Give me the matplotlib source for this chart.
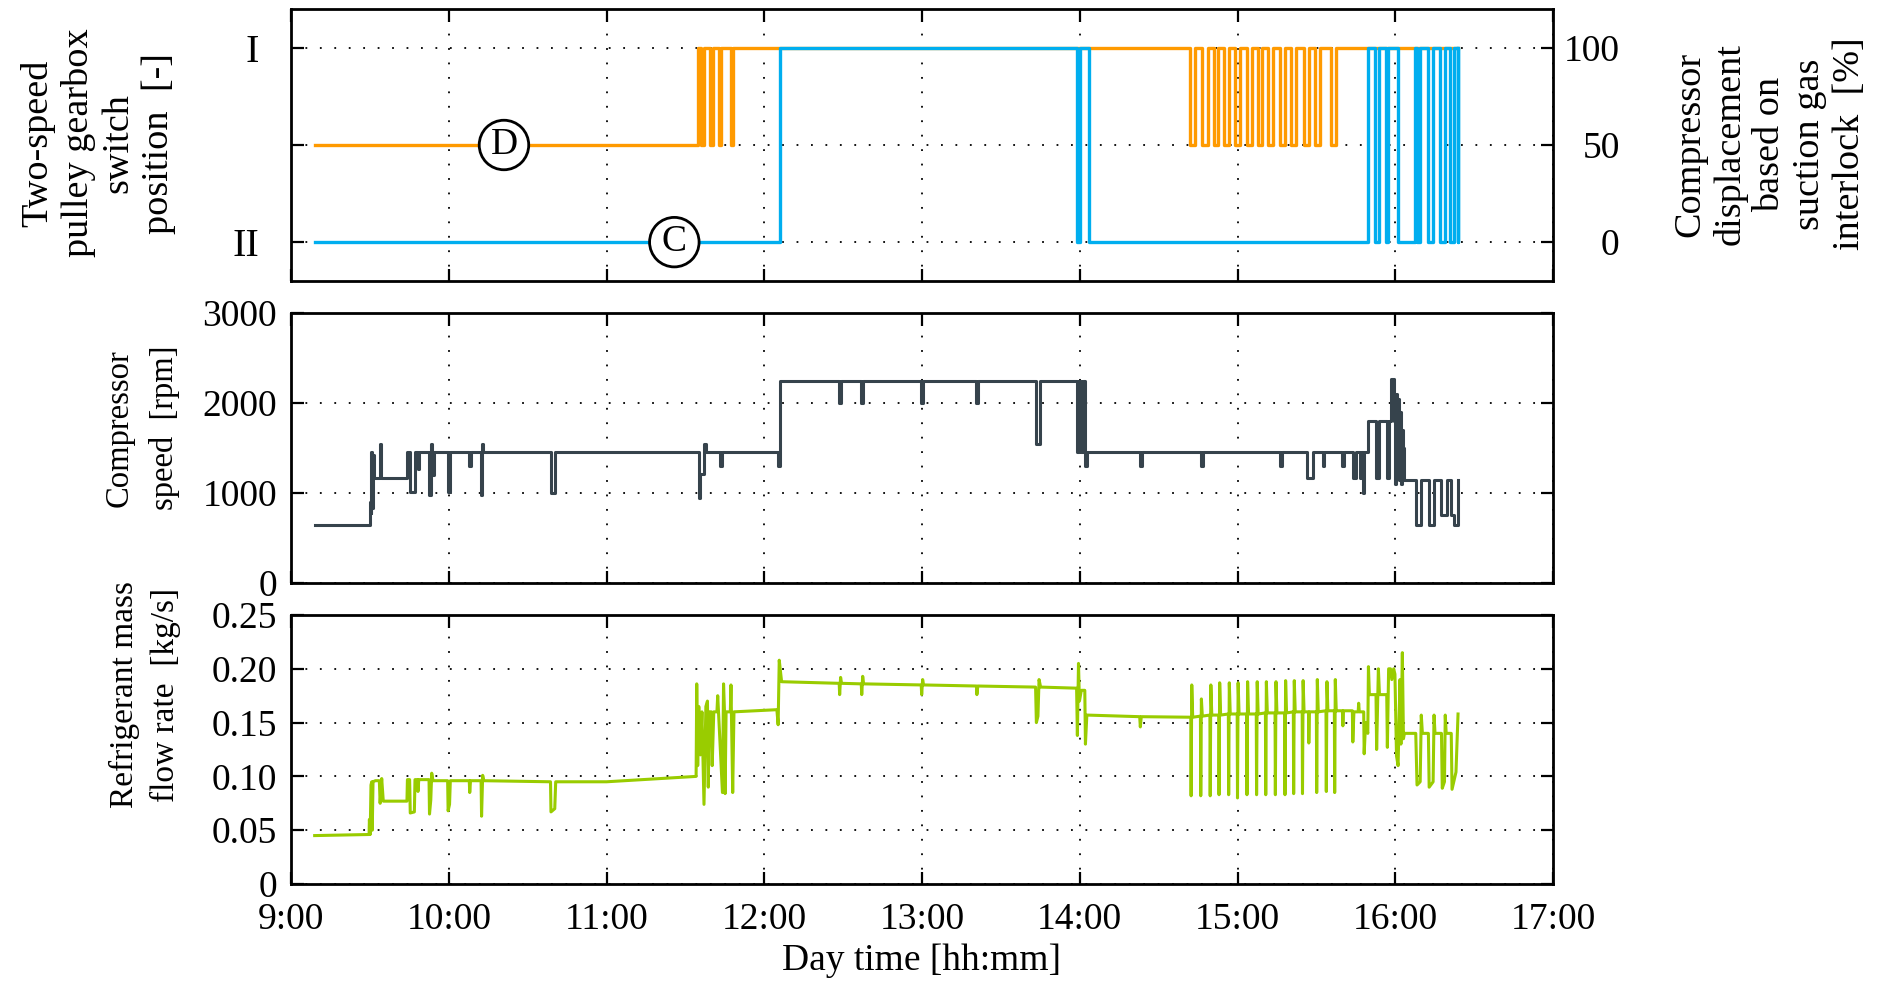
import matplotlib
matplotlib.use('Agg')
import matplotlib.pyplot as plt

# ---------------- data (time in decimal hours) ----------------
hours = [9, 10, 11, 12, 13, 14, 15, 16, 17]
hour_labels = ['9:00', '10:00', '11:00', '12:00', '13:00', '14:00', '15:00', '16:00', '17:00']

# Compressor displacement (D, orange), step series [%]
D_t = [9.15, 11.581, 11.600, 11.615, 11.655, 11.672, 11.710, 11.728, 11.790, 11.805,
       14.697, 14.729, 14.777, 14.810, 14.848, 14.874, 14.913, 14.945, 14.987, 15.019,
       15.058, 15.090, 15.129, 15.155, 15.194, 15.226, 15.268, 15.300, 15.342, 15.374,
       15.423, 15.455, 15.494, 15.526, 15.590, 15.623, 16.40]
D_v = [50, 100, 50, 100, 50, 100, 50, 100, 50, 100,
       50, 100, 50, 100, 50, 100, 50, 100, 50, 100,
       50, 100, 50, 100, 50, 100, 50, 100, 50, 100,
       50, 100, 50, 100, 50, 100, 100]

# Gearbox switch position (C, blue), step series (0 = II, 100 = I)
C_t = [9.15, 12.10, 13.985, 14.000, 14.058, 15.826, 15.873, 15.897, 15.940, 15.957,
       16.015, 16.124, 16.140, 16.155, 16.205, 16.237, 16.282, 16.316, 16.350, 16.372,
       16.395, 16.40]
C_v = [0, 100, 0, 100, 0, 100, 0, 100, 0, 100,
       0, 100, 0, 100, 0, 100, 0, 100, 0, 100,
       0, 100]

# Compressor speed [rpm], step series
S_t = [9.15, 9.498, 9.505, 9.510, 9.516, 9.522, 9.528, 9.562, 9.568, 9.735,
       9.755, 9.785, 9.803, 9.810, 9.875, 9.888, 9.896, 9.904, 9.995, 10.008,
       10.130, 10.138, 10.203, 10.213, 10.220, 10.648, 10.675, 11.585, 11.595, 11.620,
       11.628, 11.722, 11.730, 12.085, 12.098, 12.475, 12.488, 12.615, 12.625, 12.995,
       13.005, 13.345, 13.355, 13.725, 13.745, 13.985, 13.995, 14.008, 14.018, 14.035,
       14.045, 14.385, 14.395, 14.770, 14.780, 15.270, 15.280, 15.440, 15.480, 15.540,
       15.550, 15.665, 15.675, 15.730, 15.750, 15.775, 15.785, 15.795, 15.805, 15.828,
       15.880, 15.895, 15.948, 15.962, 15.972, 15.995, 16.000, 16.006, 16.012, 16.018,
       16.024, 16.030, 16.036, 16.042, 16.048, 16.052, 16.058, 16.130, 16.162, 16.215,
       16.245, 16.293, 16.325, 16.355, 16.372, 16.396, 16.40]
S_v = [640, 900, 780, 1460, 830, 1420, 1170, 1550, 1170, 1460,
       1010, 1460, 1270, 1460, 980, 1550, 1200, 1460, 1010, 1460,
       1300, 1460, 980, 1550, 1460, 1000, 1460, 950, 1210, 1550,
       1460, 1300, 1460, 1300, 2240, 2000, 2240, 2000, 2240, 2000,
       2240, 2000, 2240, 1550, 2240, 1460, 2240, 1460, 2240, 1300,
       1460, 1300, 1460, 1300, 1460, 1300, 1460, 1170, 1460, 1300,
       1460, 1300, 1460, 1170, 1460, 1170, 1460, 1000, 1460, 1800,
       1170, 1800, 1170, 1800, 2270, 1800, 1100, 2100, 1400, 2050,
       1150, 1900, 1100, 1700, 1150, 1500, 1140, 650, 1150, 650,
       1150, 760, 1150, 760, 650, 1150, 1150]

# Refrigerant mass flow rate [kg/s] -- vertices before the pulsing period
G1_t = [9.15, 9.495, 9.497, 9.502, 9.507, 9.512, 9.515, 9.520, 9.535, 9.560,
        9.565, 9.575, 9.585, 9.735, 9.738, 9.752, 9.756, 9.782, 9.786, 9.802,
        9.805, 9.810, 9.875, 9.878, 9.886, 9.892, 9.900, 9.993, 9.996, 10.005,
        10.010, 10.130, 10.133, 10.138, 10.205, 10.208, 10.215, 10.222, 10.645, 10.648,
        10.672, 10.678, 11.000, 11.568, 11.572, 11.578, 11.585, 11.595, 11.605, 11.618,
        11.630, 11.640, 11.645, 11.652, 11.665, 11.670, 11.680, 11.700, 11.705, 11.735,
        11.742, 11.748, 11.752, 11.758, 11.785, 11.789, 11.800, 11.808, 12.080, 12.088,
        12.095, 12.110, 12.475, 12.478, 12.484, 12.490, 12.615, 12.618, 12.624, 12.630,
        12.995, 12.998, 13.004, 13.010, 13.345, 13.348, 13.354, 13.720, 13.725, 13.735,
        13.742, 13.752, 13.980, 13.985, 13.992, 13.998, 14.010, 14.032, 14.036, 14.045,
        14.380, 14.384, 14.390, 14.700]
G1_v = [0.045, 0.046, 0.060, 0.046, 0.092, 0.095, 0.050, 0.095, 0.096, 0.096,
        0.075, 0.098, 0.077, 0.077, 0.097, 0.097, 0.066, 0.067, 0.097, 0.097,
        0.086, 0.097, 0.097, 0.065, 0.078, 0.103, 0.096, 0.096, 0.068, 0.074,
        0.096, 0.096, 0.085, 0.096, 0.096, 0.063, 0.101, 0.096, 0.095, 0.067,
        0.070, 0.095, 0.095, 0.100, 0.186, 0.110, 0.165, 0.120, 0.160, 0.074,
        0.165, 0.170, 0.090, 0.160, 0.160, 0.110, 0.160, 0.160, 0.175, 0.085,
        0.186, 0.160, 0.084, 0.160, 0.160, 0.185, 0.085, 0.160, 0.162, 0.148,
        0.208, 0.188, 0.1865, 0.176, 0.192, 0.1865, 0.186, 0.176, 0.193, 0.186,
        0.185, 0.176, 0.190, 0.185, 0.184, 0.176, 0.184, 0.183, 0.150, 0.156,
        0.190, 0.183, 0.182, 0.138, 0.205, 0.170, 0.180, 0.180, 0.130, 0.157,
        0.1555, 0.146, 0.1555, 0.155]

# pulses during 14:42 - 15:37 (time, minimum, maximum, baseline)
P_t = [14.704, 14.765, 14.825, 14.881, 14.942, 14.998, 15.058, 15.119, 15.177, 15.238,
       15.299, 15.354, 15.410, 15.450, 15.500, 15.561, 15.614]
P_lo = [0.082, 0.082, 0.082, 0.083, 0.083, 0.080, 0.083, 0.083, 0.083, 0.083,
        0.083, 0.084, 0.084, 0.131, 0.085, 0.086, 0.085]
P_hi = [0.185, 0.172, 0.185, 0.187, 0.187, 0.187, 0.188, 0.188, 0.188, 0.188,
        0.189, 0.189, 0.189, 0.160, 0.190, 0.188, 0.190]
P_base = [0.155, 0.156, 0.157, 0.157, 0.158, 0.158, 0.158, 0.158, 0.159, 0.159,
          0.159, 0.160, 0.160, 0.160, 0.160, 0.161, 0.161]

# vertices after the pulsing period
G2_t = [15.665, 15.668, 15.672, 15.728, 15.731, 15.738, 15.765, 15.768, 15.772, 15.800,
        15.803, 15.812, 15.826, 15.830, 15.836, 15.878, 15.882, 15.893, 15.900, 15.946,
        15.950, 15.958, 15.970, 15.978, 15.990, 15.998, 16.008, 16.018, 16.030, 16.036,
        16.045, 16.052, 16.058, 16.130, 16.138, 16.158, 16.165, 16.172, 16.210, 16.215,
        16.240, 16.246, 16.252, 16.293, 16.298, 16.312, 16.317, 16.323, 16.355, 16.360,
        16.385, 16.398]
G2_v = [0.161, 0.147, 0.161, 0.161, 0.132, 0.160, 0.160, 0.168, 0.160, 0.160,
        0.121, 0.150, 0.140, 0.202, 0.176, 0.176, 0.125, 0.200, 0.176, 0.176,
        0.127, 0.200, 0.200, 0.190, 0.200, 0.195, 0.119, 0.110, 0.190, 0.130,
        0.215, 0.135, 0.140, 0.140, 0.092, 0.095, 0.157, 0.140, 0.140, 0.090,
        0.095, 0.157, 0.140, 0.140, 0.089, 0.095, 0.157, 0.140, 0.140, 0.088,
        0.104, 0.158]

# annotation positions
label_D = (10.35, 50)
label_C = (11.43, 0)

# ---------------- style ----------------
ORANGE = '#FF9A00'
BLUE = '#00AEEF'
GRAY = '#36434C'
GREEN = '#99CC00'

plt.rcParams['font.family'] = ['Liberation Serif', 'DejaVu Serif']
plt.rcParams['font.size'] = 27

grid_kw = dict(color='k', linestyle=(0, (1, 7)), linewidth=1.3)

fig = plt.figure(figsize=(18.91, 9.81), dpi=100)
FW, FH = 1891.0, 981.0
L, W = 291 / FW, 1262 / FW


def rect(top, bot):
    return [L, 1 - bot / FH, W, (bot - top) / FH]


ax1 = fig.add_axes(rect(9, 281))
ax2 = fig.add_axes(rect(313, 583))
ax3 = fig.add_axes(rect(615, 884))


def style(ax, ypad):
    ax.set_xlim(9, 17)
    ax.set_xticks(hours)
    for s in ax.spines.values():
        s.set_linewidth(2.0)
    ax.tick_params(direction='in', length=9, width=1.6, top=True, right=True,
                   labelsize=27)
    ax.tick_params(axis='y', pad=ypad)
    ax.tick_params(axis='x', pad=13)
    ax.grid(True, **grid_kw)
    ax.set_axisbelow(True)


style(ax1, 23)
style(ax2, 10)
style(ax3, 10)

# ---- top panel ----
ax1.set_ylim(-20, 120)
ax1.set_yticks([0, 50, 100])
ax1.set_yticklabels(['II', '', 'I'])
ax1.tick_params(axis='y', labelsize=29)
ax1.set_xticklabels([])
ax1.tick_params(right=False)
ax1.step(D_t, D_v, where='post', color=ORANGE, lw=2.4, zorder=3)
ax1.step(C_t, C_v, where='post', color=BLUE, lw=2.4, zorder=3)
for (x, y), s in [(label_D, 'D'), (label_C, 'C')]:
    ax1.text(x, y, s, ha='center', va='center', fontsize=27, zorder=6,
             bbox=dict(boxstyle='circle,pad=0.2', fc='white', ec='k', lw=2))

ax1r = ax1.twinx()
ax1r.set_ylim(-20, 120)
ax1r.set_yticks([0, 50, 100])
ax1r.set_yticklabels(['0', '50', '100'])
for s in ax1r.spines.values():
    s.set_visible(False)
ax1r.tick_params(direction='in', length=9, width=1.6, labelsize=27, pad=48)
for lbl in ax1r.get_yticklabels():
    lbl.set_horizontalalignment('right')

# ---- middle panel ----
ax2.set_ylim(0, 3000)
ax2.set_yticks([0, 1000, 2000, 3000])
ax2.set_yticklabels(['0', '1000', '2000', '3000'])
ax2.set_xticklabels([])
ax2.step(S_t, S_v, where='post', color=GRAY, lw=2.2, zorder=3)

# ---- bottom panel ----
G_t = list(G1_t)
G_v = list(G1_v)
for t, lo, hi, b in zip(P_t, P_lo, P_hi, P_base):
    G_t += [t, t + 0.002, t + 0.006, t + 0.012]
    G_v += [b, lo, hi, b]
G_t += [15.62] + list(G2_t)
G_v += [0.161] + list(G2_v)

ax3.set_ylim(0, 0.25)
ax3.set_yticks([0, 0.05, 0.10, 0.15, 0.20, 0.25])
ax3.set_yticklabels(['0', '0.05', '0.10', '0.15', '0.20', '0.25'])
ax3.set_xticklabels(hour_labels)
ax3.plot(G_t, G_v, color=GREEN, lw=2.2, zorder=3)

# ---- axis titles ----
fig.text(98 / FW, 1 - 143 / FH, 'Two-speed\npulley gearbox\nswitch\nposition  [-]',
         rotation=90, ha='center', va='center', multialignment='center', fontsize=27.5)
fig.text(1770 / FW, 1 - 144 / FH,
         'Compressor\ndisplacement\nbased on\nsuction gas\ninterlock  [%]',
         rotation=90, ha='center', va='center', multialignment='center', fontsize=27.5)
fig.text(142 / FW, 1 - 428 / FH, 'Compressor\nspeed  [rpm]', rotation=90,
         ha='center', va='center', multialignment='center', fontsize=23.5, linespacing=1.6)
fig.text(145 / FW, 1 - 695 / FH, 'Refrigerant mass\nflow rate  [kg/s]', rotation=90,
         ha='center', va='center', multialignment='center', fontsize=24, linespacing=1.45)
fig.text(922 / FW, 1 - 961 / FH, 'Day time [hh:mm]', ha='center', va='center', fontsize=27)

fig.savefig('out.png', dpi=100)
